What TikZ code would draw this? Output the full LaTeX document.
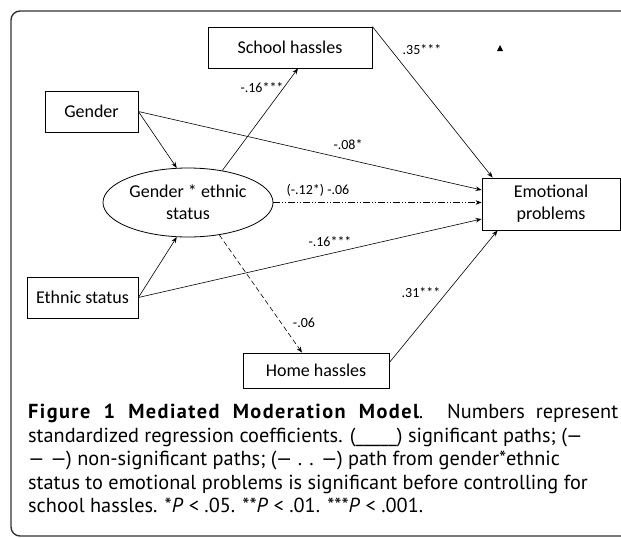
\documentclass[tikz,border=0pt]{standalone}
\usepackage{fontspec}
\setmainfont{Carlito}
\newfontfamily\capfont{PT Sans}
\usetikzlibrary{arrows,shapes,arrows.meta}
\tikzset{every node/.style={align=center}}
\tikzset{
  box/.style={draw, line width=0.8pt, inner sep=0pt, font=\fontsize{18}{22}\selectfont},
  oval/.style={box, ellipse},
  link/.style={->, >={Stealth[length=6pt,width=4.5pt]}, line width=0.6pt},
  coef/.style={font=\fontsize{14}{16}\selectfont},
  capline/.style={anchor=base west, inner sep=0pt, font=\capfont\fontsize{20.3}{23}\selectfont}
}

\begin{document}
\begin{tikzpicture}[x=1pt,y=-1pt]
        \useasboundingbox (0,0) rectangle (621,538);
        \clip (0,0) rectangle (621,538);

        % outer frame
        \draw[line width=1.4pt, black!80, rounded corners=9pt] (11,11) rectangle (660,536);

        \node[box, minimum width=164pt, minimum height=41pt] (school) at (290,47.5) {School hassles};
        \node[box, minimum width=93pt, minimum height=41pt] (gender) at (91.5,111.5) {Gender};
        \node[oval, minimum width=170pt, minimum height=69pt] (inter) at (188,202.5) {Gender * ethnic\\status};
        \node[box, minimum width=111pt, minimum height=41pt] (ethnic) at (82.5,297.5) {Ethnic status};
        \node[box, minimum width=146pt, minimum height=35pt] (home) at (316,370.5) {Home hassles};
        \node[box, minimum width=138pt, minimum height=52pt] (emo) at (551,204) {Emotional\\problems};

        % gender and ethnic status to interaction
        \draw[link] (gender.east) -- (inter.108);
        \draw[link] (ethnic.east) -- (inter.-108);

        % direct paths to emotional problems
        \draw[link] (gender.east) -- ([yshift=14pt]emo.west);
        \draw[link] (ethnic.east) -- ([yshift=-15pt]emo.west);
        \draw[link, dash pattern=on 7pt off 2pt on 1pt off 2pt on 1pt off 2pt] (inter.east) -- (inter.east -| emo.west);

        % interaction to hassles
        \draw[link] (inter.43) -- ([xshift=8pt]school.south);
        \draw[link, dash pattern=on 5pt off 3pt] (inter.-46) -- ([xshift=-14pt]home.north);

        % hassles to emotional problems
        \draw[link] (school.north east) -- ([xshift=11pt]emo.north west);
        \draw[link] ([yshift=8pt]home.east) -- ([xshift=16pt]emo.south west);

        \node[coef] (c1) at (262,88) {-.16***};
        \node[coef] (c2) at (422,50) {.35***};
        \node[coef] (c3) at (348,145) {-.08*};
        \node[coef] (c4) at (318,190) {(-.12*) -.06};
        \node[coef] (c5) at (330,242) {-.16***};
        \node[coef] (c6) at (304,323) {-.06};
        \node[coef] (c7) at (421,293) {.31***};
        \fill (497,51) -- (503,51) -- (500,45) -- cycle;

        % caption
        \node[capline] (cap1) at (28,418) {\makebox[590pt][s]{{\bfseries\addfontfeatures{LetterSpace=7}Figure 1 Mediated Moderation Model}. Numbers represent}};
        \node[capline] (cap2) at (28,442) {standardized regression coefficients. (\_\_\_\_\_) significant paths; (—};
        \node[capline] (cap3) at (28,465) {— —) non-significant paths; (— . . —) path from gender*ethnic};
        \node[capline] (cap4) at (28,489) {status to emotional problems is significant before controlling for};
        \node[capline] (cap5) at (28,512) {school hassles. *\textit{P} < .05. **\textit{P} < .01. ***\textit{P} < .001.};

    \end{tikzpicture}
\end{document}
